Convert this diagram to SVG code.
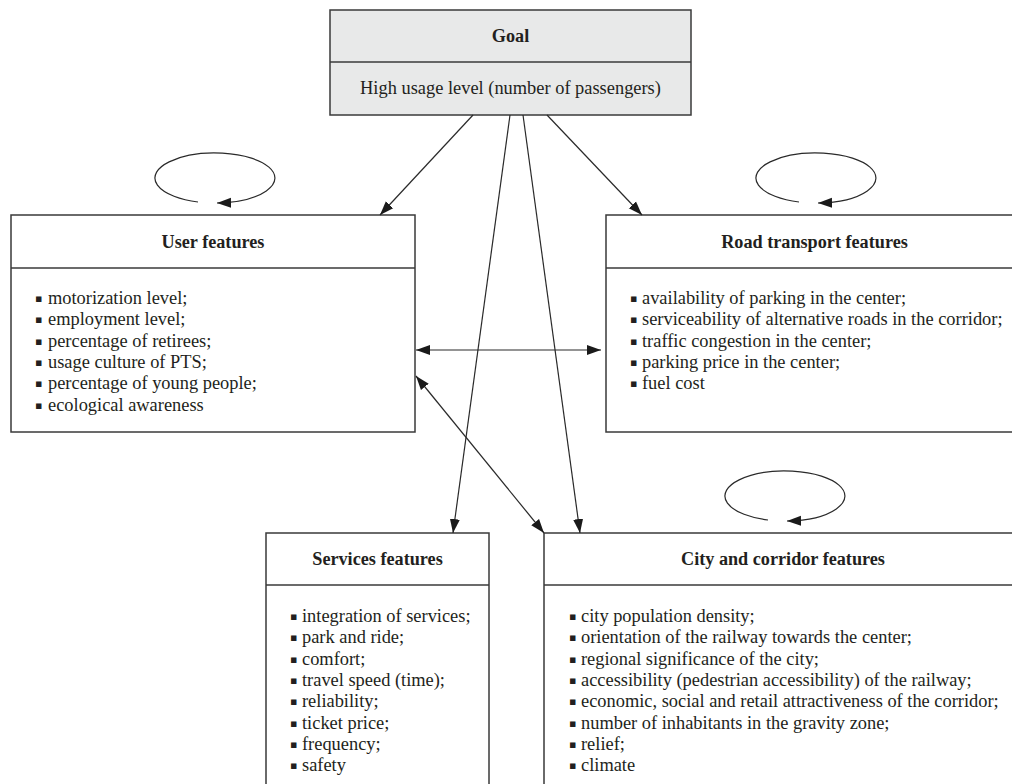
<svg xmlns="http://www.w3.org/2000/svg" width="1012" height="784" viewBox="0 0 1012 784">
<style>
.box{fill:#fff;stroke:#3a3a3a;stroke-width:1.5}
.goal{fill:#e8e9e9;stroke:#3a3a3a;stroke-width:1.5}
.div{stroke:#3a3a3a;stroke-width:1.5}
.t{font-family:"Liberation Serif",serif;font-size:18.2px;font-weight:bold;fill:#231f20;text-anchor:middle}
.b{font-family:"Liberation Serif",serif;font-size:18.4px;fill:#231f20}
.g{font-family:"Liberation Serif",serif;font-size:18.4px;fill:#231f20;text-anchor:middle}
.bl{font-family:"DejaVu Sans",sans-serif;font-size:11px;fill:#231f20}
.c{fill:none;stroke:#2a2a2a;stroke-width:1.2}
</style>
<defs>
<marker id="ah" markerUnits="userSpaceOnUse" markerWidth="16" markerHeight="12" refX="14" refY="5" orient="auto-start-reverse" viewBox="0 0 16 10">
<path d="M0,0 L14,5 L0,10 z" fill="#1a1a1a"/>
</marker>
</defs>
<rect width="1012" height="784" fill="#fff"/>

<g id="goal">
<rect class="goal" x="330" y="10" width="361" height="105"/>
<line class="div" x1="330" y1="62" x2="691" y2="62"/>
<text class="t" x="510.5" y="42">Goal</text>
<text class="g" x="510.5" y="94">High usage level (number of passengers)</text>
</g>

<g id="user">
<rect class="box" x="11" y="215" width="404" height="217"/>
<line class="div" x1="11" y1="268" x2="415" y2="268"/>
<text class="t" x="213" y="248">User features</text>
<g class="bl"><text x="35" y="302">▪</text><text x="35" y="323.3">▪</text><text x="35" y="344.6">▪</text><text x="35" y="366">▪</text><text x="35" y="387.3">▪</text><text x="35" y="408.6">▪</text></g>
<text class="b" x="48" y="304">motorization level;</text>
<text class="b" x="48" y="325.3">employment level;</text>
<text class="b" x="48" y="346.6">percentage of retirees;</text>
<text class="b" x="48" y="368">usage culture of PTS;</text>
<text class="b" x="48" y="389.3">percentage of young people;</text>
<text class="b" x="48" y="410.6">ecological awareness</text>
</g>

<g id="road">
<rect class="box" x="606" y="215" width="420" height="217"/>
<line class="div" x1="606" y1="268" x2="1026" y2="268"/>
<text class="t" x="814.5" y="248">Road transport features</text>
<g class="bl"><text x="630" y="302">▪</text><text x="630" y="323.3">▪</text><text x="630" y="344.6">▪</text><text x="630" y="366">▪</text><text x="630" y="387.3">▪</text></g>
<text class="b" x="642" y="304">availability of parking in the center;</text>
<text class="b" x="642" y="325.3">serviceability of alternative roads in the corridor;</text>
<text class="b" x="642" y="346.6">traffic congestion in the center;</text>
<text class="b" x="642" y="368">parking price in the center;</text>
<text class="b" x="642" y="389.3">fuel cost</text>
</g>

<g id="services">
<rect class="box" x="266" y="533" width="223" height="270"/>
<line class="div" x1="266" y1="585" x2="489" y2="585"/>
<text class="t" x="377.5" y="565">Services features</text>
<g class="bl"><text x="290" y="620">▪</text><text x="290" y="641.3">▪</text><text x="290" y="662.6">▪</text><text x="290" y="684">▪</text><text x="290" y="705.3">▪</text><text x="290" y="726.6">▪</text><text x="290" y="748">▪</text><text x="290" y="769.3">▪</text></g>
<text class="b" x="302" y="622">integration of services;</text>
<text class="b" x="302" y="643.3">park and ride;</text>
<text class="b" x="302" y="664.6">comfort;</text>
<text class="b" x="302" y="686">travel speed (time);</text>
<text class="b" x="302" y="707.3">reliability;</text>
<text class="b" x="302" y="728.6">ticket price;</text>
<text class="b" x="302" y="750">frequency;</text>
<text class="b" x="302" y="771.3">safety</text>
</g>

<g id="city">
<rect class="box" x="544" y="533" width="480" height="270"/>
<line class="div" x1="544" y1="585" x2="1024" y2="585"/>
<text class="t" x="783" y="565">City and corridor features</text>
<g class="bl"><text x="569" y="620">▪</text><text x="569" y="641.3">▪</text><text x="569" y="662.6">▪</text><text x="569" y="684">▪</text><text x="569" y="705.3">▪</text><text x="569" y="726.6">▪</text><text x="569" y="748">▪</text><text x="569" y="769.3">▪</text></g>
<text class="b" x="581" y="622">city population density;</text>
<text class="b" x="581" y="643.3">orientation of the railway towards the center;</text>
<text class="b" x="581" y="664.6">regional significance of the city;</text>
<text class="b" x="581" y="686">accessibility (pedestrian accessibility) of the railway;</text>
<text class="b" x="581" y="707.3">economic, social and retail attractiveness of the corridor;</text>
<text class="b" x="581" y="728.6">number of inhabitants in the gravity zone;</text>
<text class="b" x="581" y="750">relief;</text>
<text class="b" x="581" y="771.3">climate</text>
</g>

<g id="connectors">
<line class="c" x1="473" y1="115" x2="380" y2="215" marker-end="url(#ah)"/>
<line class="c" x1="547" y1="115" x2="642" y2="215" marker-end="url(#ah)"/>
<line class="c" x1="510" y1="115" x2="453" y2="533" marker-end="url(#ah)"/>
<line class="c" x1="523" y1="115" x2="580" y2="533" marker-end="url(#ah)"/>
<line class="c" x1="416" y1="350" x2="601" y2="350" marker-start="url(#ah)" marker-end="url(#ah)"/>
<line class="c" x1="416" y1="376" x2="544" y2="533" marker-start="url(#ah)" marker-end="url(#ah)"/>
<path class="c" d="M198,202 A60,25 0 1,1 217,203" marker-end="url(#ah)"/>
<path class="c" d="M799,202 A60,25 0 1,1 818,203" marker-end="url(#ah)"/>
<path class="c" d="M768,520 A60,25 0 1,1 787,521" marker-end="url(#ah)"/>
</g>
</svg>
